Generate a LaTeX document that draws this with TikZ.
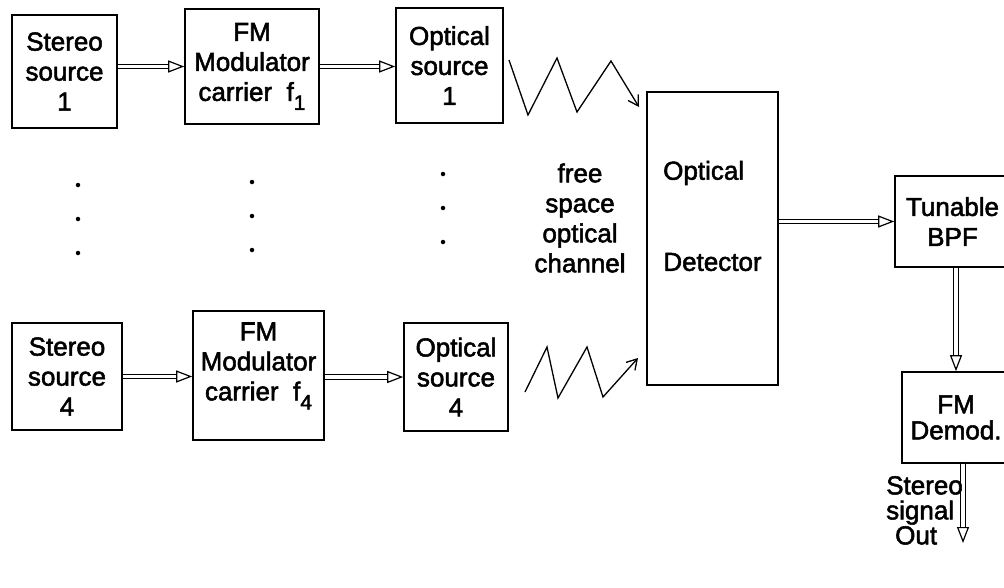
\documentclass[tikz,border=0pt]{standalone}
\usepackage{fontspec}
\setmainfont{Liberation Sans}[FakeBold=2]
\usetikzlibrary{arrows.meta}
\newcommand{\mysub}[1]{\raisebox{-0.35em}{\fontsize{21}{21}\selectfont #1}}
\begin{document}
\begin{tikzpicture}[x=1pt,y=-1pt,
  box/.style={draw, line width=1.6pt, rectangle, inner sep=0pt, align=center, font=\fontsize{26}{30}\selectfont},
  lbl/.style={inner sep=0pt, align=center, font=\fontsize{26}{30}\selectfont},
  dbl/.style={double, double distance=3.2pt, line width=1.2pt, -{Triangle[open,length=16pt,width=12pt,line width=1.2pt]}},
  zig/.style={line width=1.3pt, line join=miter, -{Straight Barb[length=10pt,width=12pt,line width=1.3pt]}},
  dotn/.style={circle, fill, inner sep=0pt, minimum size=4.5pt}]
\useasboundingbox (0,0) rectangle (1004,587);
% row 1
\node[box, minimum width=105pt, minimum height=113pt] (s1) at (64.5,71.5) {Stereo\\source\\1};
\node[box, minimum width=134pt, minimum height=115pt] (m1) at (252,66.5) {FM\\Modulator\\carrier\ \ f\mysub{1}};
\node[box, minimum width=107pt, minimum height=115pt] (o1) at (449.5,65.5) {Optical\\source\\1};
% row 4
\node[box, minimum width=110pt, minimum height=107pt] (s4) at (67,376.5) {Stereo\\source\\4};
\node[box, minimum width=131pt, minimum height=129pt] (m4) at (258.5,375.5) {};
\node[lbl] (m4t) at (258.5,366) {FM\\Modulator\\carrier\ \ f\mysub{4}};
\node[box, minimum width=104pt, minimum height=108pt] (o4) at (456,377) {Optical\\source\\4};
% detector
\node[box, minimum width=131pt, minimum height=293pt] (det) at (712.5,238.5) {};
\node[lbl, anchor=west] (detA) at (663,173) {Optical};
\node[lbl] (detB) at (712.5,262) {Detector};
% receiver
\node[box, minimum width=115pt, minimum height=91pt] (bpf) at (952.5,221.5) {Tunable\\BPF};
\node[box, minimum width=108pt, minimum height=91pt, font=\fontsize{26}{26}\selectfont] (dem) at (956,417.5) {FM\\Demod.};
% channel label
\node[lbl] (chan) at (580,218) {free\\space\\optical\\channel};
% dots
\node[dotn] (d1a) at (78,185) {};
\node[dotn] (d1b) at (78,219) {};
\node[dotn] (d1c) at (78,253) {};
\node[dotn] (d2a) at (252,182) {};
\node[dotn] (d2b) at (252,216) {};
\node[dotn] (d2c) at (252,250) {};
\node[dotn] (d3a) at (443,174) {};
\node[dotn] (d3b) at (443,208) {};
\node[dotn] (d3c) at (443,242) {};
% double arrows
\draw[dbl] (s1.east |- m1.west) -- (m1.west);
\draw[dbl] (m1.east) -- (m1.east -| o1.west);
\draw[dbl] (s4.east) -- (s4.east -| m4.west);
\draw[dbl] (m4.east |- o4.west) -- (o4.west);
\draw[dbl] (det.east |- bpf.west) -- (bpf.west);
\draw[dbl] (bpf.south -| dem.north) -- (dem.north);
\coordinate (outend) at (963,543);
\draw[dbl] (dem.south -| outend) -- (outend);
\node[lbl, font=\fontsize{26}{25}\selectfont, anchor=north west, align=left] (out) at (886,476) {Stereo\\signal\\\hspace{9pt}Out};
% zigzags
\coordinate (zt0) at (509,60);
\coordinate (zt5) at (639,107);
\draw[zig] (zt0) -- (528,115) -- (557,58) -- (577,112) -- (611,61) -- (zt5);
\coordinate (zb0) at (525,392);
\coordinate (zb5) at (638,358);
\draw[zig] (zb0) -- (547,347) -- (558,398) -- (587,347) -- (603,397) -- (zb5);
\end{tikzpicture}
\end{document}
